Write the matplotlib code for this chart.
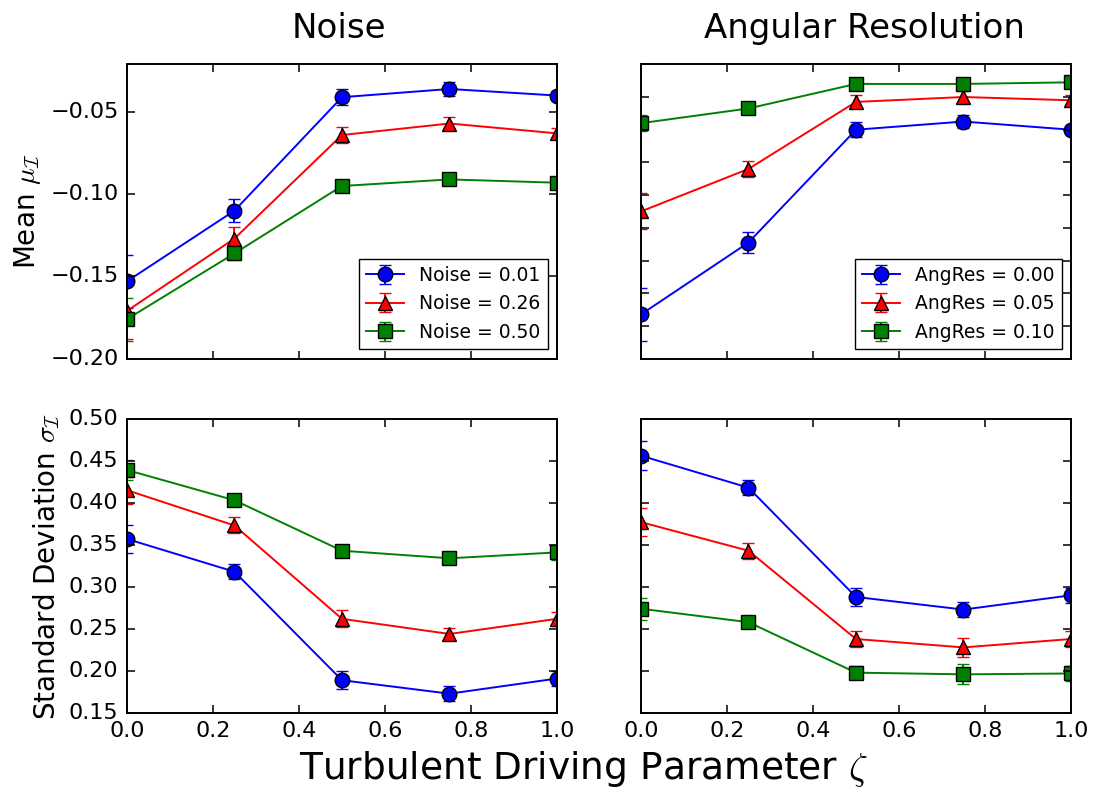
import matplotlib
matplotlib.use("Agg")
import matplotlib.pyplot as plt

# Parametre de forcage turbulent
zeta = [0.0, 0.25, 0.5, 0.75, 1.0]

# Moyenne - bruit
noise_001_mean = [-0.153, -0.110, -0.041, -0.036, -0.040]
noise_026_mean = [-0.171, -0.127, -0.064, -0.057, -0.063]
noise_050_mean = [-0.176, -0.136, -0.095, -0.091, -0.093]
noise_001_mean_err = [0.016, 0.007, 0.005, 0.004, 0.003]
noise_026_mean_err = [0.017, 0.007, 0.005, 0.004, 0.003]
noise_050_mean_err = [0.013, 0.004, 0.001, 0.001, 0.001]

# Moyenne - resolution angulaire
ang_000_mean = [-0.153, -0.109, -0.040, -0.035, -0.040]
ang_005_mean = [-0.090, -0.064, -0.023, -0.020, -0.022]
ang_010_mean = [-0.036, -0.027, -0.012, -0.012, -0.011]
ang_000_mean_err = [0.016, 0.0065, 0.0047, 0.004, 0.002]
ang_005_mean_err = [0.011, 0.005, 0.004, 0.0035, 0.003]
ang_010_mean_err = [0.005, 0.001, 0.001, 0.001, 0.001]

# Ecart type - bruit
noise_001_std = [0.357, 0.318, 0.189, 0.173, 0.191]
noise_026_std = [0.415, 0.373, 0.262, 0.244, 0.262]
noise_050_std = [0.439, 0.403, 0.343, 0.334, 0.341]
noise_001_std_err = [0.017, 0.009, 0.011, 0.009, 0.009]
noise_026_std_err = [0.016, 0.0095, 0.010, 0.0075, 0.008]
noise_050_std_err = [0.012, 0.002, 0.002, 0.002, 0.009]

# Ecart type - resolution angulaire
ang_000_std = [0.456, 0.418, 0.288, 0.273, 0.290]
ang_005_std = [0.377, 0.343, 0.238, 0.228, 0.238]
ang_010_std = [0.274, 0.258, 0.198, 0.196, 0.197]
ang_000_std_err = [0.017, 0.009, 0.011, 0.009, 0.009]
ang_005_std_err = [0.017, 0.0095, 0.010, 0.0115, 0.010]
ang_010_std_err = [0.013, 0.002, 0.008, 0.012, 0.009]

noise_labels = ["Noise = 0.01", "Noise = 0.26", "Noise = 0.50"]
ang_labels = ["AngRes = 0.00", "AngRes = 0.05", "AngRes = 0.10"]

plt.style.use("classic")
plt.rcParams["figure.facecolor"] = "white"
plt.rcParams["savefig.facecolor"] = "white"
plt.rcParams["axes.linewidth"] = 1.4
plt.rcParams["xtick.major.size"] = 5.5
plt.rcParams["ytick.major.size"] = 5.5
plt.rcParams["xtick.major.width"] = 1.1
plt.rcParams["ytick.major.width"] = 1.1
plt.rcParams["xtick.labelsize"] = 16
plt.rcParams["ytick.labelsize"] = 16
plt.rcParams["xtick.major.pad"] = 6
plt.rcParams["ytick.major.pad"] = 6

styles = [("b", "o"), ("r", "^"), ("g", "s")]


def draw(ax, series, errors, labels=None):
    for (col, mk), y, e, i in zip(styles, series, errors, range(3)):
        ax.errorbar(
            zeta, y, yerr=e,
            color=col, marker=mk, markersize=10.5,
            markeredgecolor="k", markeredgewidth=1.0,
            linewidth=1.4, elinewidth=1.4, capsize=4.5, capthick=1.4,
            label=labels[i] if labels else None,
        )


fig, axes = plt.subplots(2, 2, figsize=(10.94, 7.94), dpi=100)
fig.subplots_adjust(left=0.116, right=0.979, bottom=0.102, top=0.919,
                    wspace=0.195, hspace=0.204)

ax = axes[0, 0]
draw(ax, [noise_001_mean, noise_026_mean, noise_050_mean],
     [noise_001_mean_err, noise_026_mean_err, noise_050_mean_err], noise_labels)
ax.set_ylim(-0.20, -0.021)
ax.set_yticks([-0.20, -0.15, -0.10, -0.05])
ax.set_title("Noise", fontsize=24.5, x=0.493, y=1.065)
ax.set_ylabel(r"Mean $\mu_\mathcal{I}$", fontsize=20)
ax.legend(loc="lower right", numpoints=1, fontsize=13.5)

ax = axes[0, 1]
draw(ax, [ang_000_mean, ang_005_mean, ang_010_mean],
     [ang_000_mean_err, ang_005_mean_err, ang_010_mean_err], ang_labels)
ax.set_ylim(-0.18, 0.0)
ax.set_yticks([-0.18, -0.16, -0.14, -0.12, -0.10, -0.08, -0.06, -0.04, -0.02, 0.0])
ax.set_title("Angular Resolution", fontsize=24.5, x=0.519, y=1.065)
ax.legend(loc="lower right", numpoints=1, fontsize=13.5)

ax = axes[1, 0]
draw(ax, [noise_001_std, noise_026_std, noise_050_std],
     [noise_001_std_err, noise_026_std_err, noise_050_std_err])
ax.set_ylim(0.15, 0.50)
ax.set_ylabel(r"Standard Deviation $\sigma_\mathcal{I}$", fontsize=20)

ax = axes[1, 1]
draw(ax, [ang_000_std, ang_005_std, ang_010_std],
     [ang_000_std_err, ang_005_std_err, ang_010_std_err])
ax.set_ylim(0.15, 0.50)

for ax in axes.flat:
    ax.set_xlim(0.0, 1.0)
    ax.set_xticks([0.0, 0.2, 0.4, 0.6, 0.8, 1.0])
for ax in axes[0]:
    ax.set_xticklabels([])
for ax in axes[:, 1]:
    ax.set_yticklabels([])

fig.text(0.533, 0.032, r"Turbulent Driving Parameter $\zeta$", fontsize=27,
         ha="center", va="center")

fig.savefig("out.png", dpi=100)
